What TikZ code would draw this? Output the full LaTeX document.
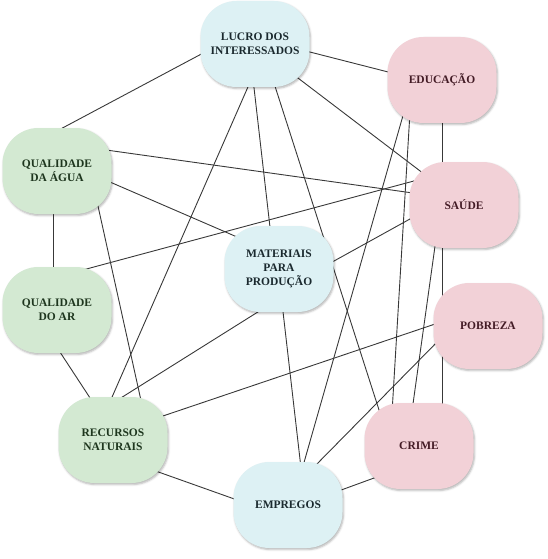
\documentclass[tikz,border=0pt]{standalone}
\usepackage{fontspec}
\setmainfont{Liberation Serif}
\usetikzlibrary{backgrounds,shadows.blur}
\definecolor{greenfill}{HTML}{D3E9D2}
\definecolor{bluefill}{HTML}{DDF1F4}
\definecolor{pinkfill}{HTML}{F2D1D7}
\definecolor{greentext}{HTML}{1E361E}
\definecolor{bluetext}{HTML}{1A292E}
\definecolor{pinktext}{HTML}{431B25}
\definecolor{edgecol}{HTML}{383838}
\begin{document}
\begin{tikzpicture}[x=1pt,y=-1pt,
 topic/.style={rounded corners=36pt, minimum width=109pt, minimum height=86pt,
   align=center, font=\fontsize{11.5}{14}\selectfont\bfseries, inner sep=0pt,
   blur shadow={shadow xshift=1pt, shadow yshift=-1.5pt, shadow blur radius=2pt, shadow opacity=30}},
 env/.style={topic, fill=greenfill, text=greentext},
 econ/.style={topic, fill=bluefill, text=bluetext},
 soc/.style={topic, fill=pinkfill, text=pinktext},
 link/.style={draw=edgecol, line width=0.9pt}]
\useasboundingbox (0,0) rectangle (548,559);
\node[econ] (lucro) at (255,44) {LUCRO DOS\\INTERESSADOS};
\node[soc] (edu) at (442,80) {EDUCAÇÃO};
\node[env] (agua) at (57,171) {QUALIDADE\\DA ÁGUA};
\node[soc] (saude) at (464,205) {SAÚDE};
\node[econ] (mat) at (279,269) {MATERIAIS\\PARA\\PRODUÇÃO};
\node[env] (ar) at (57,310) {QUALIDADE\\DO AR};
\node[soc] (pob) at (488,326) {POBREZA};
\node[env] (rec) at (113,440) {RECURSOS\\NATURAIS};
\node[soc] (crime) at (419,446) {CRIME};
\node[econ] (emp) at (288,505) {EMPREGOS};
\begin{scope}[on background layer]
\draw[link] ([shift={(-48,7)}]lucro.center) -- ([shift={(-2,-39)}]agua.center);
\draw[link] ([shift={(47,6)}]lucro.center) -- ([shift={(-46,-6)}]edu.center);
\draw[link] ([shift={(39,31)}]lucro.center) -- ([shift={(-36,-28)}]saude.center);
\draw[link] ([shift={(-4,36)}]lucro.center) -- ([shift={(-4,-36)}]rec.center);
\draw[link] ([shift={(-2,35)}]lucro.center) -- ([shift={(-8,-33)}]mat.center);
\draw[link] ([shift={(18,36)}]lucro.center) -- ([shift={(-39,-33)}]crime.center);
\draw[link] ([shift={(42,-22)}]agua.center) -- ([shift={(-44,-11)}]saude.center);
\draw[link] ([shift={(46,8)}]agua.center) -- ([shift={(-35,-29)}]mat.center);
\draw[link] ([shift={(-4,30)}]agua.center) -- ([shift={(-4,-30)}]ar.center);
\draw[link] ([shift={(39,26)}]agua.center) -- ([shift={(29,-35)}]rec.center);
\draw[link] ([shift={(-39,-27)}]saude.center) -- ([shift={(22,-39)}]ar.center);
\draw[link] ([shift={(-45,9)}]saude.center) -- ([shift={(46,-3)}]mat.center);
\draw[link] ([shift={(0,35)}]edu.center) -- ([shift={(23,-36)}]crime.center);
\draw[link] ([shift={(-38,32)}]edu.center) -- ([shift={(15,-39)}]emp.center);
\draw[link] ([shift={(-32,32)}]edu.center) -- ([shift={(-27,-33)}]crime.center);
\draw[link] ([shift={(-28,34)}]saude.center) -- ([shift={(-7,-35)}]crime.center);
\draw[link] ([shift={(-47,-4)}]pob.center) -- ([shift={(44,-22)}]rec.center);
\draw[link] ([shift={(-46,11)}]pob.center) -- ([shift={(24,-36)}]emp.center);
\draw[link] ([shift={(-10,36)}]mat.center) -- ([shift={(3,-39)}]rec.center);
\draw[link] ([shift={(3,34)}]mat.center) -- ([shift={(13,-37)}]emp.center);
\draw[link] ([shift={(-1,36)}]ar.center) -- ([shift={(-19,-36)}]rec.center);
\draw[link] ([shift={(37,29)}]rec.center) -- ([shift={(-48,-4)}]emp.center);
\draw[link] ([shift={(45,-12)}]emp.center) -- ([shift={(-34,28)}]crime.center);
\end{scope}
\end{tikzpicture}
\end{document}
